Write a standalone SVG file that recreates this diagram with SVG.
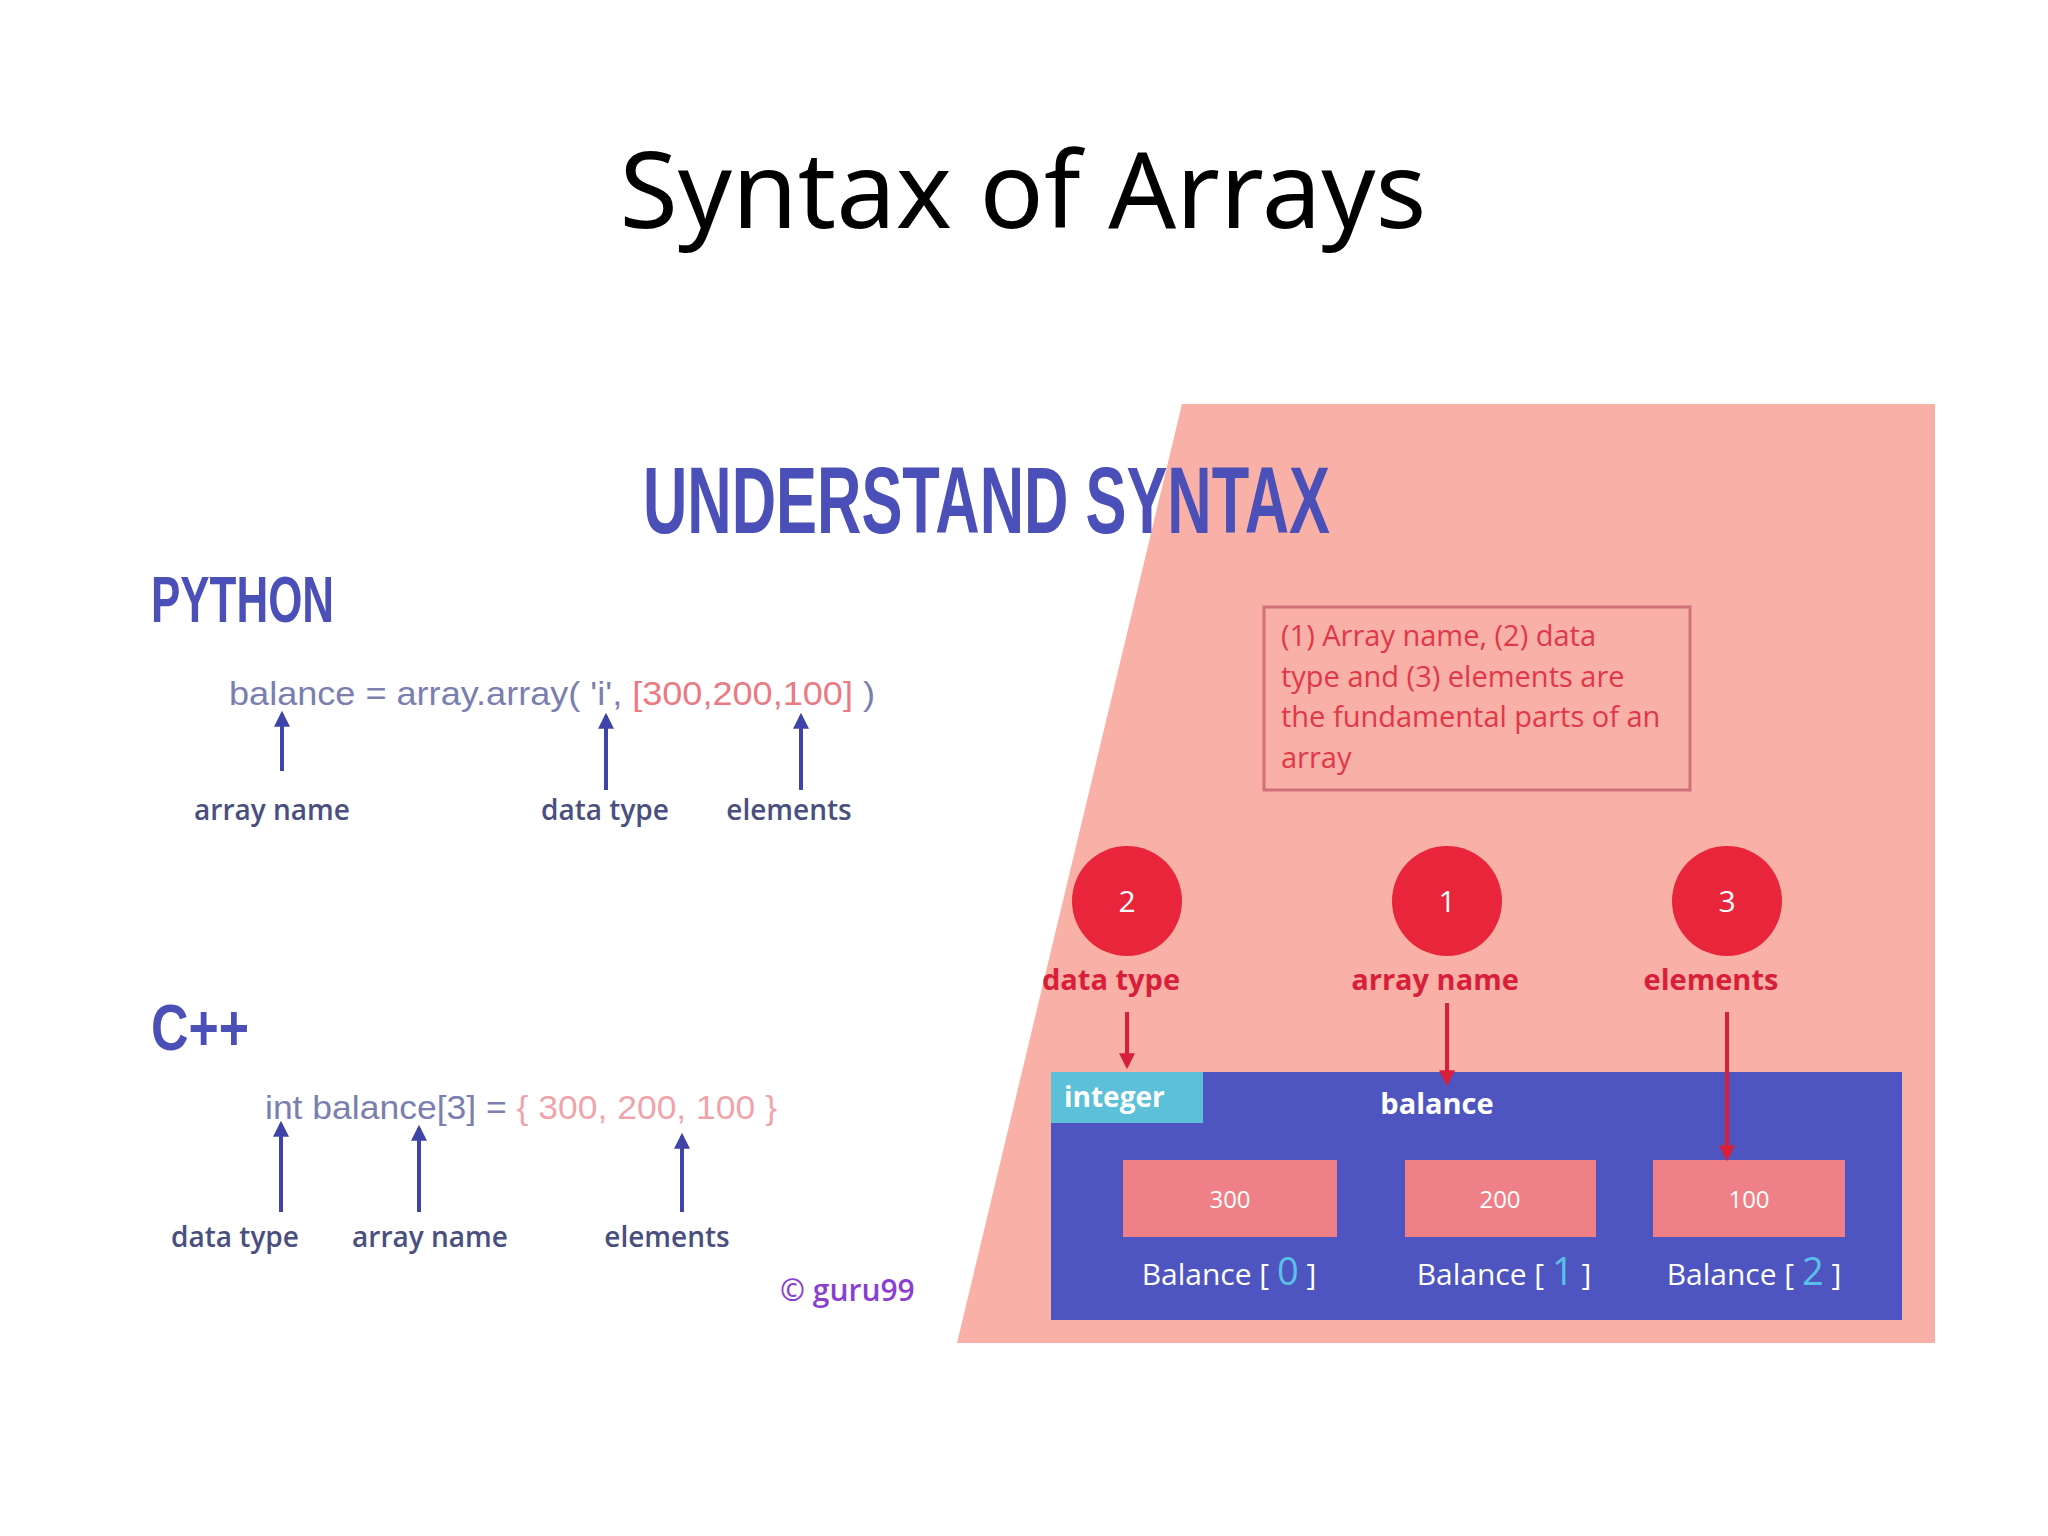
<svg xmlns="http://www.w3.org/2000/svg" width="2048" height="1536" viewBox="0 0 2048 1536">
<style>
.h{font-family:"Liberation Sans",Arial,sans-serif;font-weight:bold;fill:#4a50b8}
.code{font-family:"Liberation Sans",Arial,sans-serif;font-size:34px;fill:#7a7fb0}
.num{fill:#ea7a84}
.lbl{font-family:"Open Sans","Liberation Sans",sans-serif;font-size:28px;font-weight:600;fill:#4a4f80;text-anchor:middle}
.rl{font-family:"Open Sans","Liberation Sans",sans-serif;font-size:29px;font-weight:bold;fill:#d81f3a;text-anchor:middle}
.note{font-family:"Open Sans","Liberation Sans",sans-serif;font-size:29px;fill:#e03848}
.w{font-family:"Open Sans","Liberation Sans",sans-serif;fill:#fff;text-anchor:middle}
.ba{stroke:#3f45a8;stroke-width:4;fill:none}
.ra{stroke:#d81f3a;stroke-width:4;fill:none}
</style>
<defs>
<marker id="mb" viewBox="0 0 10 10" refX="8" refY="5" markerWidth="4" markerHeight="4" orient="auto"><path d="M0,0L10,5L0,10z" fill="#3f45a8"/></marker>
<marker id="mr" viewBox="0 0 10 10" refX="8" refY="5" markerWidth="4" markerHeight="4" orient="auto"><path d="M0,0L10,5L0,10z" fill="#d81f3a"/></marker>
</defs>
<rect width="2048" height="1536" fill="#fff"/>
<text x="1023" y="228" font-family="Noto Sans,Open Sans,sans-serif" font-size="106" text-anchor="middle" fill="#000" textLength="807" lengthAdjust="spacingAndGlyphs">Syntax of Arrays</text>
<polygon points="1182,404 1935,404 1935,1343 957,1343" fill="#f9b0a6"/>
<text class="h" x="643" y="533" font-size="94" textLength="687" lengthAdjust="spacingAndGlyphs">UNDERSTAND SYNTAX</text>
<text class="h" x="151" y="622" font-size="64" textLength="183" lengthAdjust="spacingAndGlyphs">PYTHON</text>
<text class="h" x="151" y="1050" font-size="64" textLength="98" lengthAdjust="spacingAndGlyphs">C++</text>
<g id="python-code"><text class="code" x="229" y="705" textLength="646" lengthAdjust="spacingAndGlyphs">balance  =  array.array( 'i', <tspan class="num">[300,200,100]</tspan> )</text></g>
<g id="cpp-code"><text class="code" x="265" y="1119" textLength="512" lengthAdjust="spacingAndGlyphs">int balance[3] = <tspan class="num" fill-opacity="0.7">{ 300, 200, 100 }</tspan></text></g>
<g id="left-labels">
<text class="lbl" x="272" y="820">array name</text>
<text class="lbl" x="605" y="820">data type</text>
<text class="lbl" x="789" y="820">elements</text>
<text class="lbl" x="235" y="1247">data type</text>
<text class="lbl" x="430" y="1247">array name</text>
<text class="lbl" x="667" y="1247">elements</text>
</g>
<text x="780" y="1301" font-family="Open Sans,Liberation Sans,sans-serif" font-size="30" font-weight="600" fill="#8a3fd0">© guru99</text>
<g id="note"><rect x="1264" y="607" width="426" height="183" fill="none" stroke="#d0707a" stroke-width="3"/>
<text class="note" x="1281" y="646">(1) Array name, (2) data</text>
<text class="note" x="1281" y="687">type and (3) elements are</text>
<text class="note" x="1281" y="727">the fundamental parts of an</text>
<text class="note" x="1281" y="768">array</text></g>
<g id="circles" fill="#e8253a">
<circle cx="1127" cy="901" r="55"/><circle cx="1447" cy="901" r="55"/><circle cx="1727" cy="901" r="55"/>
<text class="w" x="1127" y="912" font-size="30">2</text><text class="w" x="1447" y="912" font-size="30">1</text><text class="w" x="1727" y="912" font-size="30">3</text>
</g>
<text class="rl" x="1111" y="990">data type</text>
<text class="rl" x="1435" y="990">array name</text>
<text class="rl" x="1711" y="990">elements</text>
<g id="array">
<rect x="1051" y="1072" width="851" height="248" fill="#4f55c0"/>
<rect x="1051" y="1072" width="152" height="51" fill="#5bc0d8"/>
<text x="1064" y="1107" font-family="Open Sans,Liberation Sans,sans-serif" font-size="28" font-weight="bold" fill="#fff">integer</text>
<text class="w" x="1437" y="1114" font-size="29" font-weight="bold">balance</text>
<rect x="1123" y="1160" width="214" height="77" fill="#f08088"/>
<rect x="1405" y="1160" width="191" height="77" fill="#f08088"/>
<rect x="1653" y="1160" width="192" height="77" fill="#f08088"/>
<text class="w" x="1230" y="1208" font-size="24">300</text>
<text class="w" x="1500" y="1208" font-size="24">200</text>
<text class="w" x="1749" y="1208" font-size="24">100</text>
<text class="w" x="1229" y="1285" font-size="30">Balance [ <tspan fill="#5bc0e8" font-size="38">0</tspan> ]</text>
<text class="w" x="1504" y="1285" font-size="30">Balance [ <tspan fill="#5bc0e8" font-size="38">1</tspan> ]</text>
<text class="w" x="1754" y="1285" font-size="30">Balance  [ <tspan fill="#5bc0e8" font-size="38">2</tspan> ]</text>
</g>
<g id="connectors">
<line class="ba" x1="282" y1="771" x2="282" y2="714" marker-end="url(#mb)"/>
<line class="ba" x1="606" y1="790" x2="606" y2="716" marker-end="url(#mb)"/>
<line class="ba" x1="801" y1="790" x2="801" y2="716" marker-end="url(#mb)"/>
<line class="ba" x1="281" y1="1212" x2="281" y2="1124" marker-end="url(#mb)"/>
<line class="ba" x1="419" y1="1212" x2="419" y2="1128" marker-end="url(#mb)"/>
<line class="ba" x1="682" y1="1212" x2="682" y2="1136" marker-end="url(#mb)"/>
<line class="ra" x1="1127" y1="1012" x2="1127" y2="1066" marker-end="url(#mr)"/>
<line class="ra" x1="1447" y1="1003" x2="1447" y2="1083" marker-end="url(#mr)"/>
<line class="ra" x1="1727" y1="1012" x2="1727" y2="1158" marker-end="url(#mr)"/>
</g>
</svg>
